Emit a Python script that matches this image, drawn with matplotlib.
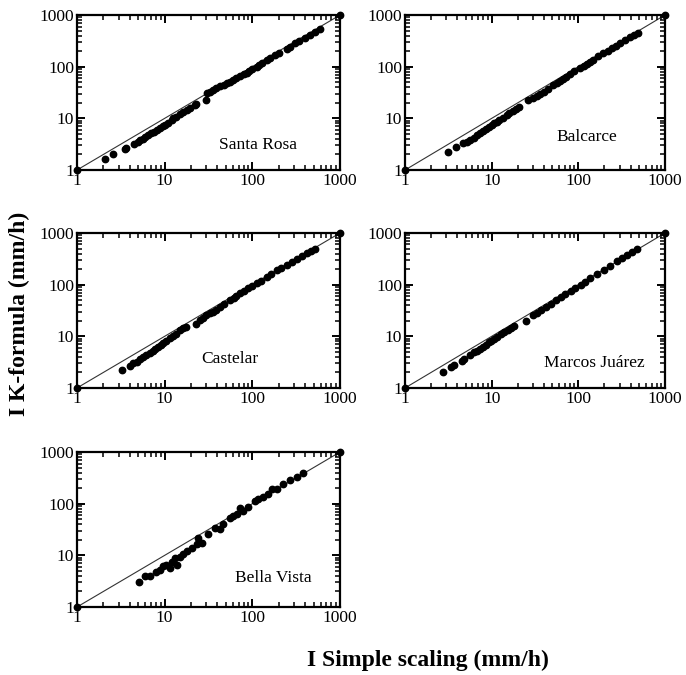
import numpy as np
import matplotlib
matplotlib.use("Agg")
import matplotlib.pyplot as plt
from matplotlib import ticker

plt.rcParams['font.family'] = ['Liberation Serif', 'DejaVu Serif']

# station names
stations = ["Santa Rosa", "Balcarce", "Castelar", "Marcos Juárez", "Bella Vista"]

# I simple scaling (x) / I K-formula (y)
sr_x = [1, 2.1, 2.6, 3.5, 3.6, 4.5, 5.0, 5.2, 5.6, 6.0, 6.5, 7.0, 7.5, 8.1, 8.8, 9.5, 10.1, 11.0,
        12.0, 12.6, 13.5, 15.0, 16.0, 17.8, 19.5, 22.0, 23.0, 29.4, 30.1, 33, 36, 39, 43, 47, 52,
        56, 60, 65, 72, 80, 86, 92, 100, 112, 120, 130, 146, 160, 181, 200, 247, 270, 307, 340,
        399, 460, 519, 591, 1000]
sr_y = [1, 1.6, 2.0, 2.6, 2.7, 3.2, 3.5, 3.8, 4.0, 4.3, 4.7, 5.2, 5.5, 5.9, 6.5, 7.0, 7.4, 8.3,
        9.2, 10.0, 10.8, 12.0, 13.0, 14.5, 16.0, 18.0, 18.8, 22.6, 30.5, 32, 35, 38, 42, 45, 49,
        51, 55, 60, 67, 72, 77, 82, 90, 100, 108, 117, 134, 148, 168, 186, 216, 240, 283, 310,
        364, 420, 476, 543, 1000]

bc_x = [1, 3.1, 3.9, 4.7, 5.2, 5.6, 6.2, 6.8, 7.3, 8.0, 8.6, 9.2, 10.0, 10.6, 11.4, 12.3, 13.5,
        14.9, 16.0, 17.8, 19.0, 20.7, 26.5, 30.2, 33, 36, 40, 45, 51.5, 56, 61, 66, 72, 80, 90,
        104, 115, 125, 137, 149, 170, 194, 220, 242, 270, 303, 350, 394, 440, 492, 1000]
bc_y = [1, 2.2, 2.8, 3.3, 3.5, 3.8, 4.2, 4.7, 5.1, 5.6, 6.2, 6.9, 7.4, 8.0, 8.6, 9.3, 10.3,
        11.6, 12.5, 13.9, 15.0, 16.8, 22.6, 24.4, 27, 29.6, 33, 36.4, 44, 48, 53.6, 58, 64, 72, 82,
        93, 103, 113, 123, 135, 158, 181, 205, 226, 255, 283, 330, 380, 410, 442, 1000]

cs_x = [1, 3.3, 4.0, 4.4, 4.8, 5.3, 5.7, 6.2, 6.8, 7.3, 7.8, 8.5, 9.0, 9.7, 10.5, 11.5, 12.5,
        13.5, 15.0, 16.2, 17.5, 22.8, 25.0, 27.6, 30, 33, 36, 39, 43, 48, 55.6, 62, 66, 72, 80,
        90, 100, 112, 125, 146, 165, 190, 215, 247, 280, 320, 370, 420, 470, 519, 1000]
cs_y = [1, 2.2, 2.7, 3.0, 3.2, 3.6, 3.9, 4.3, 4.8, 5.2, 5.7, 6.3, 6.8, 7.4, 8.1, 9.3, 10.2,
        11.2, 13.1, 14.2, 15.2, 17.1, 21, 23.1, 25.5, 28, 30, 33, 37.3, 42, 50, 56, 60, 68, 75,
        85, 95, 106, 120, 143, 163, 190, 212, 245, 275, 315, 365, 410, 455, 490, 1000]

mj_x = [1, 2.75, 3.4, 3.7, 4.5, 4.8, 5.6, 6.3, 6.8, 7.4, 7.9, 8.6, 9.2, 9.8, 10.6, 11.5, 12.8,
        13.8, 15.3, 16.5, 18.2, 24.8, 29.6, 33, 37, 42, 48, 55, 62.5, 70, 81.4, 92, 106, 120,
        138, 165, 196, 230, 279, 320, 363, 420, 473, 1000]
mj_y = [1, 2.0, 2.5, 2.8, 3.4, 3.6, 4.3, 4.9, 5.3, 5.8, 6.2, 6.9, 7.6, 8.3, 9.0, 9.9, 11.3,
        12.3, 13.5, 14.6, 16.0, 19.9, 25.7, 28.5, 32, 37, 43, 50, 58, 65, 76, 88, 99, 113,
        133, 160, 193, 230, 281, 325, 378, 430, 488, 1000]

bv_x = [1, 5.1, 6.0, 6.8, 8.0, 8.9, 9.7, 10.5, 11.5, 12.0, 13.1, 13.7, 15.0, 16.3, 17.8,
        20.3, 23.2, 24.2, 26.4, 31.5, 37.5, 42.8, 46.7, 55.6, 60.7, 66.2, 72.3, 78.9, 90,
        107, 117, 133, 152, 166, 190, 226, 269, 321, 382, 1000]
bv_y = [1, 3.1, 3.9, 3.9, 4.7, 5.2, 6.1, 6.5, 5.6, 7.6, 8.8, 6.5, 9.5, 10.6, 12.3,
        13.9, 16.6, 21.7, 17.4, 26, 34, 33, 39.6, 53.6, 57.7, 62.2, 81.5, 72.3, 86.5,
        113, 122, 132, 153, 192, 192, 240, 288, 334, 389, 1000]

xs = [sr_x, bc_x, cs_x, mj_x, bv_x]
ys = [sr_y, bc_y, cs_y, mj_y, bv_y]

# axes boxes (left, bottom, width, height) and label spots
boxes = [[0.1122, 0.7481, 0.3834, 0.2296],
         [0.5904, 0.7481, 0.3790, 0.2296],
         [0.1122, 0.4252, 0.3834, 0.2296],
         [0.5904, 0.4252, 0.3790, 0.2296],
         [0.1122, 0.1007, 0.3834, 0.2296]]
name_pos = [(0.69, 0.16), (0.70, 0.21), (0.58, 0.19), (0.73, 0.16), (0.745, 0.19)]

fig = plt.figure(figsize=(6.86, 6.75), dpi=100)

for i in range(5):
    ax = fig.add_axes(boxes[i])
    ax.set_xscale('log')
    ax.set_yscale('log')
    ax.plot([1, 1000], [1, 1000], color='#333333', lw=0.8, zorder=1)
    ax.plot(xs[i], ys[i], 'o', color='black', ms=4.6, mec='black', clip_on=False, zorder=3)
    ax.set_xlim(1, 1000)
    ax.set_ylim(1, 1000)
    for sp in ax.spines.values():
        sp.set_linewidth(1.6)
    ax.set_xticks([1, 10, 100, 1000])
    ax.set_yticks([1, 10, 100, 1000])
    ax.xaxis.set_minor_locator(ticker.LogLocator(base=10, subs=np.arange(2, 10)))
    ax.yaxis.set_minor_locator(ticker.LogLocator(base=10, subs=np.arange(2, 10)))
    ax.xaxis.set_minor_formatter(ticker.NullFormatter())
    ax.yaxis.set_minor_formatter(ticker.NullFormatter())
    ax.xaxis.set_major_formatter(ticker.FuncFormatter(lambda v, p: '%d' % v))
    ax.yaxis.set_major_formatter(ticker.FuncFormatter(lambda v, p: '%d' % v))
    ax.tick_params(which='major', direction='in', length=6, width=1.4, color='black',
                   top=True, right=True, labelsize=12.5, pad=2)
    ax.tick_params(which='minor', direction='in', length=3.5, width=1.1, color='black',
                   top=True, right=True)
    ax.text(name_pos[i][0], name_pos[i][1], stations[i], transform=ax.transAxes,
            ha='center', va='center', fontsize=12.5)

fig.text(0.029, 0.535, 'I K-formula (mm/h)', rotation=90, ha='center', va='center',
         fontsize=17, fontweight='bold')
fig.text(0.624, 0.021, 'I Simple scaling (mm/h)', ha='center', va='center',
         fontsize=17, fontweight='bold')

fig.savefig('out.png', dpi=100)
